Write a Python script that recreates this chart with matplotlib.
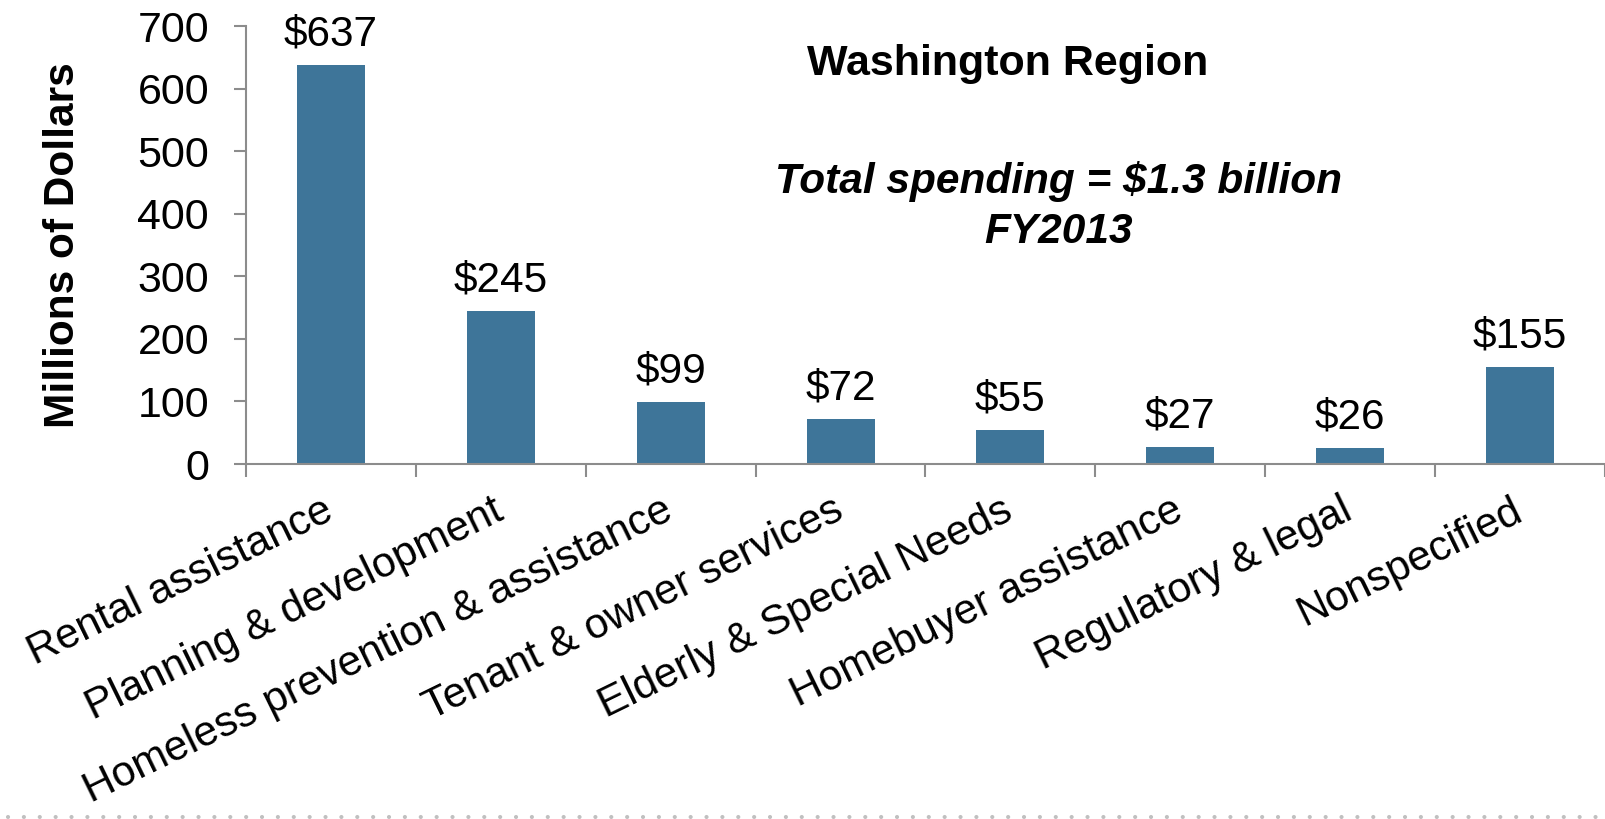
import numpy as np
import matplotlib
matplotlib.use('Agg')
import matplotlib.pyplot as plt
import matplotlib.transforms as mtransforms
from matplotlib.lines import Line2D

# Datos
categorias = ['Rental assistance', 'Planning & development',
              'Homeless prevention & assistance', 'Tenant & owner services',
              'Elderly & Special Needs', 'Homebuyer assistance',
              'Regulatory & legal', 'Nonspecified']
gasto = [637, 245, 99, 72, 55, 27, 26, 155]
etiquetas = ['$637', '$245', '$99', '$72', '$55', '$27', '$26', '$155']
ticks_y = [0, 100, 200, 300, 400, 500, 600, 700]

plt.rcParams['font.family'] = ['Liberation Sans', 'DejaVu Sans']

color_barra = '#3e7599'
gris = '#8c8c8c'

fig = plt.figure(figsize=(16.06, 8.19), dpi=100)
ax = fig.add_axes([246/1606, 355/819, 1359/1606, 438/819])

x = np.arange(len(categorias))
barras = ax.bar(x, gasto, width=0.4, color=color_barra)

# Etiquetas de valor encima de cada barra
for xi, v, txt in zip(x, gasto, etiquetas):
    ax.annotate(txt, (xi, v), xytext=(0, 14), textcoords='offset points',
                ha='center', va='baseline', fontsize=30.5)

ax.set_xlim(-0.5, len(categorias) - 0.5)
ax.set_ylim(0, 700)
ax.set_yticks(ticks_y)
ax.tick_params(axis='y', labelsize=31, length=8.6, width=1.5, color=gris, pad=18)

# Marcas del eje x en los limites de cada categoria
ax.set_xticks(x)
ax.set_xticks(np.arange(len(categorias) + 1) - 0.5, minor=True)
ax.tick_params(axis='x', which='major', length=0, pad=19, labelsize=30.5)
ax.tick_params(axis='x', which='minor', length=9.4, width=1.5, color=gris)
ax.set_xticklabels(categorias, rotation=26, ha='right', rotation_mode='anchor')

# pequeño desplazamiento a la izquierda de las etiquetas
desplaza = mtransforms.ScaledTranslation(-9/100, 0, fig.dpi_scale_trans)
for lab in ax.get_xticklabels():
    lab.set_transform(lab.get_transform() + desplaza)

for lado in ['top', 'right']:
    ax.spines[lado].set_visible(False)
for lado in ['left', 'bottom']:
    ax.spines[lado].set_color(gris)
    ax.spines[lado].set_linewidth(1.5)

ax.text(-0.135, 0.5, 'Millions of Dollars', transform=ax.transAxes, rotation=90,
        ha='center', va='center', fontsize=30.5, fontweight='bold')

# Titulos
fig.text(1008/1606, (819-75)/819, 'Washington Region', ha='center', va='baseline',
         fontsize=31, fontweight='bold')
fig.text(1059/1606, (819-193)/819, 'Total spending = $1.3 billion', ha='center',
         va='baseline', fontsize=30.5, fontweight='bold', fontstyle='italic')
fig.text(1059/1606, (819-243)/819, 'FY2013', ha='center',
         va='baseline', fontsize=30.5, fontweight='bold', fontstyle='italic')

# Linea punteada inferior
fig.add_artist(Line2D([0.005, 1.0], [2/819, 2/819], transform=fig.transFigure,
                      color='#c0c0c0', lw=3, linestyle=(0, (0.01, 3.8)),
                      dash_capstyle='round'))

fig.savefig('out.png', dpi=100)
